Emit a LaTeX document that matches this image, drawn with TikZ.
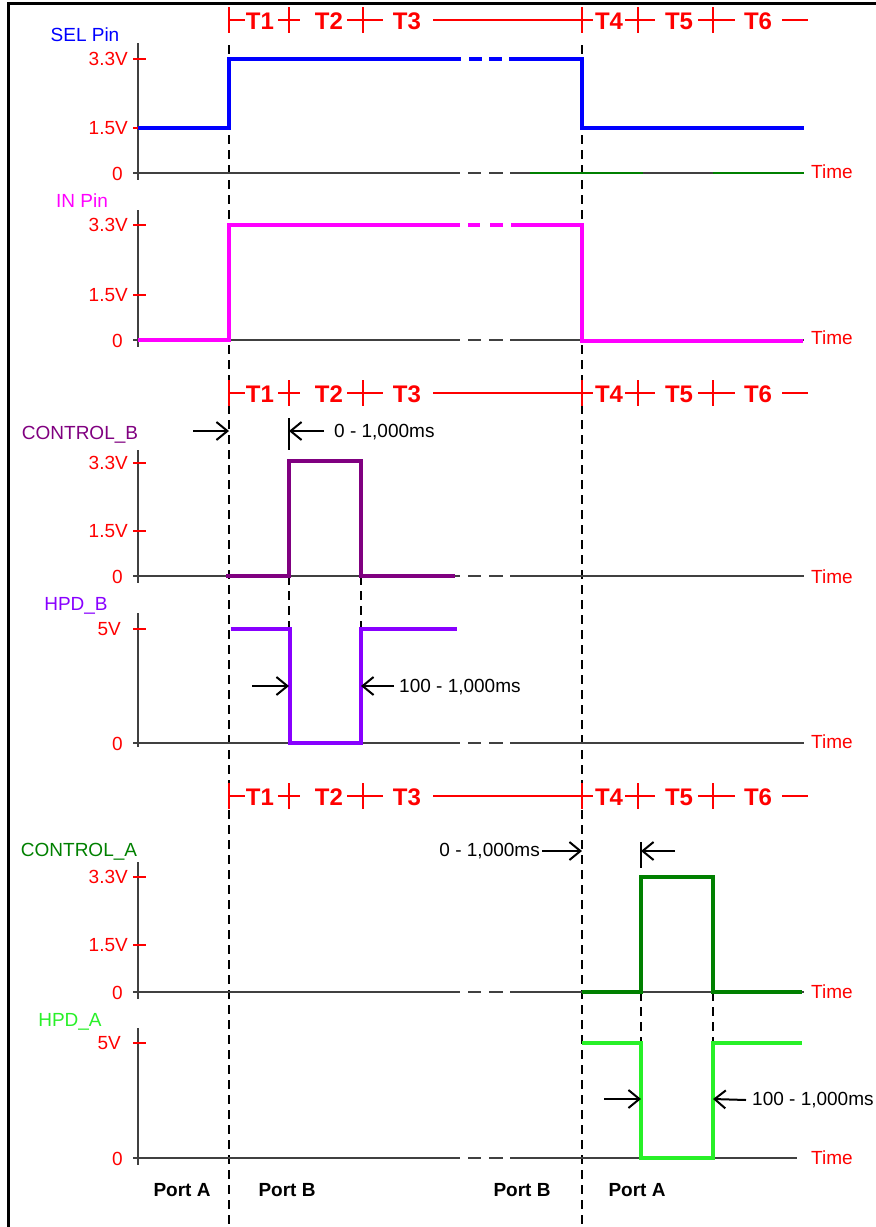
\documentclass[tikz,border=0pt]{standalone}
\usepackage{fontspec}
\setmainfont{Liberation Sans}
\usetikzlibrary{arrows.meta}
\definecolor{selblue}{RGB}{0,0,255}
\definecolor{inpink}{RGB}{255,0,255}
\definecolor{ctrlb}{RGB}{128,0,128}
\definecolor{hpdb}{RGB}{136,0,255}
\definecolor{ctrla}{RGB}{0,128,0}
\definecolor{hpda}{RGB}{40,240,40}

% row of phase marks T1 ... T6
\newcommand{\phaserow}[2]{%
  \draw[tmark] (229,#1-13) -- (229,#1+13) (229,#1) -- (245,#1);
  \node[tlabel] (#2t1) at (260,#1+1) {T1};
  \draw[tmark] (289,#1-13) -- (289,#1+13) (278,#1) -- (300,#1);
  \node[tlabel] (#2t2) at (329,#1+1) {T2};
  \draw[tmark] (363,#1-13) -- (363,#1+13) (347,#1) -- (383,#1);
  \node[tlabel] (#2t3) at (407,#1+1) {T3};
  \draw[tmark] (582,#1-13) -- (582,#1+13) (433,#1) -- (593,#1);
  \node[tlabel] (#2t4) at (609,#1+1) {T4};
  \draw[tmark] (638,#1-13) -- (638,#1+13) (625,#1) -- (655,#1);
  \node[tlabel] (#2t5) at (679,#1+1) {T5};
  \draw[tmark] (713,#1-13) -- (713,#1+13) (698,#1) -- (735,#1);
  \node[tlabel] (#2t6) at (758,#1+1) {T6};
  \draw[tmark] (782,#1) -- (808,#1);
}
% time axis with the break
\newcommand{\zeroaxis}[2]{%
  \draw[axis] (133,#1) -- (460,#1) (468,#1) -- (481,#1) (489,#1) -- (503,#1) (510,#1) -- (#2,#1);
}

\begin{document}
\begin{tikzpicture}[x=1pt,y=-1pt,
    every node/.style={font=\fontsize{19}{22}\selectfont, inner sep=0pt},
    tlabel/.style={red, font=\fontsize{24}{28}\selectfont\bfseries},
    lvl/.style={red, anchor=east},
    timelbl/.style={red, anchor=west},
    portlbl/.style={font=\fontsize{19}{22}\selectfont\bfseries},
    tmark/.style={red, line width=1.6pt},
    axis/.style={black!75, line width=1.5pt},
    vtick/.style={red, line width=1.2pt},
    wave/.style={line width=4pt},
    guide/.style={black, line width=2.8pt, dash pattern=on 9pt off 6pt},
    marker/.style={black, line width=2pt, -{Straight Barb[length=11pt,width=18pt]}}]
    \useasboundingbox (0,0) rectangle (876,1227);
    \draw[line width=3pt] (8,1227) -- (8,3) -- (876,3);

    % guide lines
    \draw[guide] (229,45) -- (229,1227);
    \draw[guide] (582,45) -- (582,1227);
    \draw[guide] (289,576) -- (289,629);
    \draw[guide] (361,576) -- (361,629);
    \draw[guide] (641,992) -- (641,1043);
    \draw[guide] (713,992) -- (713,1043);

    \phaserow{20}{a}
    \phaserow{393}{b}
    \phaserow{796}{c}

    % SEL Pin
    \node[selblue] (sel) at (85,35) {SEL Pin};
    \draw[axis] (138,43) -- (138,180);
    \zeroaxis{173}{804}
    \draw[ctrla, line width=1.5pt] (530,173) -- (643,173) (713,173) -- (804,173);
    \draw[vtick] (133,59) -- (146,59) (133,128) -- (146,128);
    \node[lvl] (sel33) at (128,59) {3.3V};
    \node[lvl] (sel15) at (128,128) {1.5V};
    \node[lvl] (sel0) at (123,174) {0};
    \node[timelbl] (seltime) at (811,172) {Time};
    \draw[wave, selblue] (138,128) -- (229,128) -- (229,59) -- (461,59)
        (469,59) -- (482,59) (489,59) -- (502,59)
        (509,59) -- (582,59) -- (582,128) -- (804,128);

    % IN Pin
    \node[inpink] (inpin) at (82,201) {IN Pin};
    \draw[axis] (138,210) -- (138,347);
    \zeroaxis{340}{804}
    \draw[vtick] (133,225) -- (146,225) (133,295) -- (146,295);
    \node[lvl] (in33) at (128,225) {3.3V};
    \node[lvl] (in15) at (128,295) {1.5V};
    \node[lvl] (in0) at (123,341) {0};
    \node[timelbl] (intime) at (811,338) {Time};
    \draw[wave, inpink] (138,340) -- (229,340) -- (229,225) -- (460,225)
        (468,225) -- (480,225) (490,225) -- (503,225)
        (511,225) -- (582,225) -- (582,341) -- (803,341);

    % CONTROL_B
    \node[ctrlb] (ctlb) at (80,435) {CONTROL\_B};
    \draw[axis] (138,450) -- (138,583);
    \zeroaxis{576}{804}
    \draw[vtick] (133,463) -- (146,463) (133,531) -- (146,531);
    \node[lvl] (cb33) at (128,463) {3.3V};
    \node[lvl] (cb15) at (128,531) {1.5V};
    \node[lvl] (cb0) at (123,577) {0};
    \node[timelbl] (cbtime) at (811,577) {Time};
    \draw[wave, ctrlb, line width=3.5pt] (226,576) -- (289,576) -- (289,461) -- (361,461) -- (361,576) -- (455,576);
    \coordinate (cbl) at (229,431);
    \coordinate (cbr) at (289,431);
    \draw[black, line width=2pt] (289,418) -- (289,450);
    \node[anchor=west] (cbdelay) at (334,432) {0 - 1,000ms};
    \draw[marker] (193,431) -- (cbl);
    \draw[marker] (324,431) -- (cbr);

    % HPD_B
    \node[hpdb] (hpdbl) at (76,606) {HPD\_B};
    \draw[axis] (138,613) -- (138,747);
    \zeroaxis{743}{804}
    \draw[vtick] (133,629) -- (146,629);
    \node[lvl] (hb5) at (121,629) {5V};
    \node[lvl] (hb0) at (123,744) {0};
    \node[timelbl] (hbtime) at (811,742) {Time};
    \draw[wave, hpdb, line width=3.5pt] (231,629) -- (290,629) -- (290,743) -- (361,743) -- (361,629) -- (457,629);
    \coordinate (hbl) at (289,686);
    \coordinate (hbr) at (361,686);
    \node[anchor=west] (hbwidth) at (399,687) {100 - 1,000ms};
    \draw[marker] (252,686) -- (hbl);
    \draw[marker] (394,686) -- (hbr);

    % CONTROL_A
    \node[ctrla] (ctla) at (79,852) {CONTROL\_A};
    \draw[axis] (138,862) -- (138,999);
    \zeroaxis{992}{804}
    \draw[vtick] (133,877) -- (146,877) (133,945) -- (146,945);
    \node[lvl] (ca33) at (128,877) {3.3V};
    \node[lvl] (ca15) at (128,945) {1.5V};
    \node[lvl] (ca0) at (123,993) {0};
    \node[timelbl] (catime) at (811,992) {Time};
    \draw[wave, ctrla] (582,992) -- (641,992) -- (641,877) -- (713,877) -- (713,992) -- (802,992);
    \coordinate (cal) at (582,851);
    \coordinate (car) at (641,851);
    \draw[black, line width=2pt] (641,842) -- (641,868);
    \node[anchor=east] (cadelay) at (540,851) {0 - 1,000ms};
    \draw[marker] ([xshift=2pt]cadelay.east) -- (cal);
    \draw[marker] (675,851) -- (car);

    % HPD_A
    \node[hpda] (hpdal) at (70,1022) {HPD\_A};
    \draw[axis] (138,1028) -- (138,1165);
    \zeroaxis{1158}{797}
    \draw[vtick] (133,1043) -- (146,1043);
    \node[lvl] (ha5) at (121,1043) {5V};
    \node[lvl] (ha0) at (123,1159) {0};
    \node[timelbl] (hatime) at (811,1158) {Time};
    \draw[wave, hpda] (582,1043) -- (641,1043) -- (641,1158) -- (713,1158) -- (713,1043) -- (802,1043);
    \coordinate (hal) at (641,1099);
    \coordinate (har) at (713,1099);
    \node[anchor=west] (hawidth) at (752,1100) {100 - 1,000ms};
    \draw[marker] (604,1099) -- (hal);
    \draw[marker] ([xshift=-6pt]hawidth.west) -- (har);

    % ports
    \node[portlbl] (porta1) at (182,1190) {Port A};
    \node[portlbl] (portb1) at (287,1190) {Port B};
    \node[portlbl] (portb2) at (522,1190) {Port B};
    \node[portlbl] (porta2) at (637,1190) {Port A};
\end{tikzpicture}
\end{document}
